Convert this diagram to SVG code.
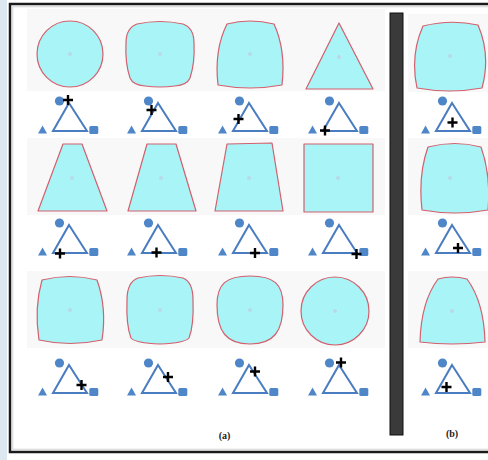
<svg xmlns="http://www.w3.org/2000/svg" xmlns:xlink="http://www.w3.org/1999/xlink" width="488" height="460" viewBox="0 0 488 460">
<style>
.shape{fill:#a8f4f6;stroke:#d2606e;stroke-width:1.2;stroke-linejoin:round}
.dot{fill:#b9d9e6}
.panel{fill:#f8f8f8}
.tri{fill:#fff;stroke:#4a7cc0;stroke-width:2;stroke-linejoin:miter}
.blue{fill:#4f86c8}
.plus{stroke:#000;stroke-width:2.4;fill:none}
.lbl{font-family:"Liberation Serif",serif;font-weight:bold;font-size:10px;fill:#222;text-anchor:middle}
</style>
<defs>
<g id="icon">
<circle cx="-10.5" cy="-30" r="4.6" class="blue"/>
<polygon points="-1,-28 17,0 -17,0" class="tri"/>
<polygon points="-27.5,-5.5 -32,2.5 -23,2.5" class="blue"/>
<rect x="19.3" y="-5" width="9" height="8" rx="1.5" class="blue"/>
</g>
<path id="plus" d="M-5,0H5M0,-5V5" class="plus"/>
</defs>
<rect x="0" y="0" width="488" height="460" fill="#fff"/>
<rect x="0" y="0" width="7" height="460" fill="#dde7ef"/>
<rect x="10" y="4" width="500" height="448" fill="none" stroke="#1a1a1a" stroke-width="2.5"/>
<rect x="12.8" y="6.8" width="500" height="442.4" fill="none" stroke="#c8c8c8" stroke-width="0.8"/>
<g id="panels">
<rect x="27" y="9" width="358" height="82" class="panel"/>
<rect x="27" y="138" width="358" height="77" class="panel"/>
<rect x="27" y="271" width="358" height="77" class="panel"/>
<rect x="408" y="14" width="80" height="78" class="panel"/>
<rect x="408" y="138" width="80" height="77" class="panel"/>
<rect x="408" y="271" width="80" height="77" class="panel"/>
</g>
<rect id="divider" x="390" y="13" width="13" height="422" fill="#3a3a3a" stroke="#111" stroke-width="1"/>
<g id="r1c1"><circle cx="70" cy="54" r="33" class="shape"/><circle cx="70" cy="54" r="2" class="dot"/><use xlink:href="#icon" x="70" y="131"/><use xlink:href="#plus" x="68" y="100"/></g>
<g id="r1c2"><path class="shape" d="M137,24 Q160,19 183,24 Q194,28 194,43 Q195,63 190,78 Q187,85 175,86 Q160,88 145,86 Q133,85 130,78 Q125,63 126,43 Q126,28 137,24 Z"/><circle cx="160" cy="54" r="2" class="dot"/><use xlink:href="#icon" x="159" y="131"/><use xlink:href="#plus" x="151.5" y="110"/></g>
<g id="r1c3"><path class="shape" d="M227,24 Q250,18 274,24 Q286,50 282,85 Q250,91 218,85 Q214,50 227,24 Z"/><circle cx="250" cy="54" r="2" class="dot"/><use xlink:href="#icon" x="250" y="131"/><use xlink:href="#plus" x="238.5" y="119"/></g>
<g id="r1c4"><polygon class="shape" points="339,23 373,89 306,89"/><circle cx="339" cy="57" r="2" class="dot"/><use xlink:href="#icon" x="340" y="131"/><use xlink:href="#plus" x="325" y="130.5"/></g>
<g id="r1c5"><path class="shape" d="M423,26 Q451,19 478,25 Q491,55 482,88 Q450,94 417,88 Q410,55 423,26 Z"/><circle cx="450" cy="56" r="2" class="dot"/><use xlink:href="#icon" x="453" y="131"/><use xlink:href="#plus" x="452.5" y="122.5"/></g>
<g id="r2c1"><polygon class="shape" points="63,144 82,144 107,211 38,211"/><circle cx="72" cy="178" r="2" class="dot"/><use xlink:href="#icon" x="70" y="253"/><use xlink:href="#plus" x="60" y="253.5"/></g>
<g id="r2c2"><polygon class="shape" points="147,144 176,144 196,211 128,211"/><circle cx="161" cy="178" r="2" class="dot"/><use xlink:href="#icon" x="159" y="253"/><use xlink:href="#plus" x="156.5" y="252.5"/></g>
<g id="r2c3"><polygon class="shape" points="227,144 272,143 283,211 215,211"/><circle cx="249" cy="178" r="2" class="dot"/><use xlink:href="#icon" x="250" y="253"/><use xlink:href="#plus" x="255" y="253"/></g>
<g id="r2c4"><rect class="shape" x="304" y="144" width="69" height="68"/><circle cx="338" cy="178" r="2" class="dot"/><use xlink:href="#icon" x="340" y="253"/><use xlink:href="#plus" x="356.5" y="254"/></g>
<g id="r2c5"><path class="shape" d="M428,147 Q455,140 481,147 Q491,175 488,210 Q455,216 422,210 Q418,175 428,147 Z"/><circle cx="450" cy="178" r="2" class="dot"/><use xlink:href="#icon" x="453" y="253"/><use xlink:href="#plus" x="458" y="248"/></g>
<g id="r3c1"><path class="shape" d="M42,280 Q70,273 97,280 Q107,308 102,340 Q70,347 39,340 Q34,308 42,280 Z"/><circle cx="70" cy="310" r="2" class="dot"/><use xlink:href="#icon" x="70" y="393"/><use xlink:href="#plus" x="81.5" y="385"/></g>
<g id="r3c2"><path class="shape" d="M138,278 Q160,273 183,278 Q193,282 193,300 Q194,325 189,338 Q185,343 160,344 Q135,343 131,338 Q126,325 127,300 Q127,282 138,278 Z"/><circle cx="160" cy="310" r="2" class="dot"/><use xlink:href="#icon" x="159" y="393"/><use xlink:href="#plus" x="168" y="377"/></g>
<g id="r3c3"><path class="shape" d="M250,276 C274,276 283,284 283,305 C283,331 274,344 250,344 C226,344 217,331 217,305 C217,284 226,276 250,276 Z"/><circle cx="250" cy="310" r="2" class="dot"/><use xlink:href="#icon" x="250" y="393"/><use xlink:href="#plus" x="255" y="371.5"/></g>
<g id="r3c4"><circle cx="335" cy="311" r="34" class="shape"/><circle cx="335" cy="311" r="2" class="dot"/><use xlink:href="#icon" x="340" y="393"/><use xlink:href="#plus" x="341" y="362.5"/></g>
<g id="r3c5"><path class="shape" d="M438,279 Q452,275 467,279 Q484,302 485,342 Q452,346 420,342 Q421,302 438,279 Z"/><circle cx="452" cy="311" r="2" class="dot"/><use xlink:href="#icon" x="453" y="393"/><use xlink:href="#plus" x="446.5" y="387"/></g>
<text class="lbl" x="224.5" y="439">(a)</text>
<text class="lbl" x="452" y="437">(b)</text>
</svg>
